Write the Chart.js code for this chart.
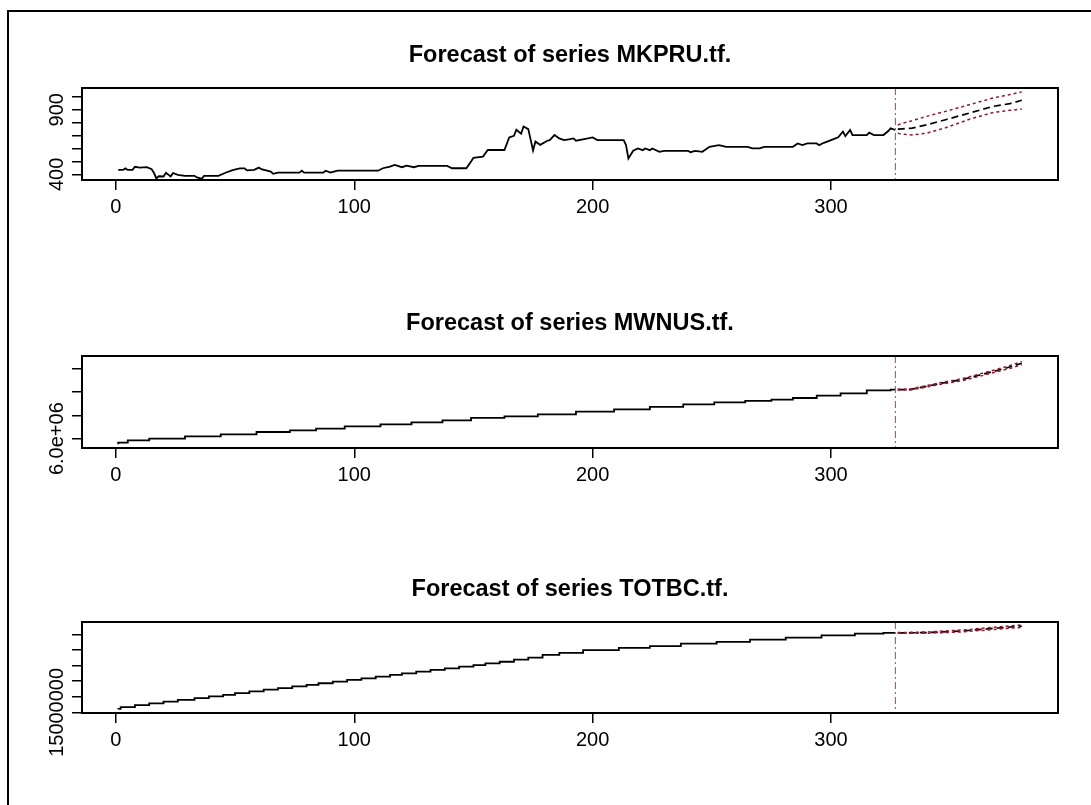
<!DOCTYPE html>
<html>
<head>
<meta charset="utf-8">
<script src="https://cdn.jsdelivr.net/npm/chart.js@4.4.1/dist/chart.umd.min.js"></script>
<style>
html,body{margin:0;padding:0;background:#fff;}
body{width:1091px;height:805px;position:relative;overflow:hidden;}
#frame{position:absolute;left:7px;top:10px;width:1200px;height:900px;border-left:2px solid #000;border-top:2px solid #000;}
canvas{position:absolute;left:0;}
</style>
</head>
<body>
<div id="frame"></div>
<canvas id="c1" width="1091" height="250" style="top:20px"></canvas>
<canvas id="c2" width="1091" height="250" style="top:290px"></canvas>
<canvas id="c3" width="1091" height="250" style="top:555px"></canvas>
<script>
// ---------- shared axis data ----------
const panelTitles = ["Forecast of series MKPRU.tf.", "Forecast of series MWNUS.tf.", "Forecast of series TOTBC.tf."];
const xTicks = [0, 100, 200, 300];
const xRange = [-14.2, 395.2];
const nObs = 327;

// ---------- MKPRU.tf ----------
const mkpruIdx = [1,3,4,5,7,8,10,13,15,16,17,18,20,21,23,24,26,29,33,34,36,37,43,46,49,52,54,55,58,60,61,65,66,68,77,78,79,87,88,90,93,110,112,115,117,120,122,125,127,139,141,147,149,150,154,156,163,165,167,168,170,171,173,175,176,178,181,182,184,186,188,190,192,193,197,200,202,213,214,215,217,219,221,222,224,225,228,230,240,241,243,246,249,253,256,265,267,270,272,284,286,288,290,294,295,297,300,303,305,306,308,309,315,316,318,322,324,325,327];
const mkpruVal = [434,434,446,434,434,458,452,455,440,410,368,385,383,412,384,410,396,388,388,376,366,388,388,412,433,446,446,430,434,452,440,421,404,413,413,428,413,413,428,413,428,428,447,460,472,455,467,455,465,465,447,447,499,528,537,588,588,686,698,745,714,770,750,585,654,628,660,665,704,678,665,670,678,660,675,686,665,665,626,522,582,600,587,600,587,600,574,582,582,571,582,574,613,626,613,613,600,600,613,613,639,626,639,639,626,644,665,686,730,696,743,704,704,722,704,704,735,756,743];
const mkpruFcIdx = [328,330,334,340,348,358,368,375,380];
const mkpruFcMean = [750,752,757,783,822,874,926,947,973];
const mkpruFcUpper = [782,796,815,848,887,939,991,1017,1038];
const mkpruFcLower = [718,710,705,718,760,826,879,895,905];
const mkpruYTicks = [400,500,600,700,800,900,1000];
const mkpruYLabels = [400, 900];
const mkpruYRange = [356, 1068];

// ---------- MWNUS.tf ----------
const mwnusIdx = [1,5,14,29,44,59,73,84,96,111,124,137,149,163,177,193,209,224,238,251,264,275,284,294,304,315,325,327];
const mwnusVal = [5879000,5914000,5964000,6000000,6050000,6093000,6143000,6179000,6214000,6264000,6307000,6350000,6393000,6443000,6479000,6521000,6579000,6629000,6679000,6736000,6779000,6807000,6836000,6871000,6921000,6971000,7036000,7050000];
const mwnusFcIdx = [328,333,340,347,355,362,370,376,380];
const mwnusFcMean = [7050000,7052000,7121000,7193000,7264000,7357000,7464000,7550000,7615000];
const mwnusFcUpper = [7058000,7064000,7135000,7210000,7285000,7380000,7490000,7580000,7650000];
const mwnusFcLower = [7042000,7040000,7105000,7175000,7240000,7330000,7440000,7520000,7585000];
const mwnusYTicks = [6000000,6500000,7000000,7500000];
const mwnusYLabels = [6000000];
const mwnusYRange = [5800000, 7770000];

// ---------- TOTBC.tf ----------
const totbcIdx = [1,2,8,14,20,26,33,39,45,50,56,62,68,74,80,85,91,97,103,109,115,120,126,132,138,144,150,155,161,167,173,179,186,196,211,224,237,252,266,281,296,310,322,327];
const totbcVal = [15042000,15045000,15068000,15093000,15115000,15138000,15160000,15182000,15205000,15225000,15247000,15268000,15290000,15310000,15332000,15352000,15373000,15394000,15416000,15436000,15458000,15479000,15500000,15521000,15543000,15564000,15585000,15606000,15627000,15648000,15675000,15700000,15735000,15762000,15797000,15826000,15847000,15881000,15902000,15932000,15958000,15987000,16008000,16017000];
const totbcFcIdx = [328,340,355,370,380];
const totbcFcMean = [16017000,16021000,16042000,16080000,16104000];
const totbcFcUpper = [16021000,16029000,16054000,16094000,16120000];
const totbcFcLower = [16013000,16013000,16030000,16066000,16088000];
const totbcYTicks = [15000000,15200000,15400000,15600000,15800000,16000000];
const totbcYLabels = [15000000];
const totbcYRange = [14992000, 16157000];

// ---------- helpers ----------
function pts(xs, ys){ return xs.map((x,i)=>({x:x, y:ys[i]})); }
function fmtY(v){
  if (v >= 1e6 && v < 1e7) return (v/1e6).toFixed(1) + "e+06";
  return String(v);
}
const FONT = '"Liberation Sans", Arial, Helvetica, sans-serif';
const CI_COLOR = '#8e1a30';

const panelDecor = {
  id: 'panelDecor',
  afterDatasetsDraw(chart, args, opts){
    const ctx = chart.ctx, a = chart.chartArea;
    const xs = chart.scales.x, ys = chart.scales.y;
    ctx.save();
    // forecast origin line
    const vx = xs.getPixelForValue(opts.nObs);
    ctx.strokeStyle = '#c8507a';
    ctx.lineWidth = 1.2;
    ctx.setLineDash([7,3,2,3]);
    ctx.beginPath(); ctx.moveTo(vx, a.top); ctx.lineTo(vx, a.bottom); ctx.stroke();
    ctx.setLineDash([]);
    // box
    ctx.strokeStyle = '#000';
    ctx.lineWidth = 2;
    ctx.strokeRect(a.left, a.top, a.right - a.left, a.bottom - a.top);
    // title
    ctx.fillStyle = '#000';
    ctx.font = 'bold 23.5px ' + FONT;
    ctx.textAlign = 'center';
    ctx.textBaseline = 'alphabetic';
    ctx.fillText(opts.title, (a.left + a.right)/2, a.top - 26);
    // rotated y labels
    ctx.font = '20px ' + FONT;
    ctx.textBaseline = 'middle';
    opts.yLabels.forEach(v => {
      const py = ys.getPixelForValue(v);
      ctx.save();
      ctx.translate(a.left - 25, py);
      ctx.rotate(-Math.PI/2);
      ctx.fillText(fmtY(v), 0, 0);
      ctx.restore();
    });
    ctx.restore();
  }
};

function makePanel(id, p){
  return new Chart(document.getElementById(id), {
    type: 'line',
    data: { datasets: [
      { data: pts(p.idx, p.val), borderColor:'#000', borderWidth:1.8, pointRadius:0, stepped: p.stepped ? 'after' : false, tension:0, fill:false },
      { data: pts(p.fcIdx, p.fcLower), borderColor:CI_COLOR, borderWidth:1.5, borderDash:[3,3], pointRadius:0, fill:false },
      { data: pts(p.fcIdx, p.fcUpper), borderColor:CI_COLOR, borderWidth:1.5, borderDash:[3,3], pointRadius:0, fill:false },
      { data: pts(p.fcIdx, p.fcMean), borderColor:'#000', borderWidth:1.7, borderDash:[7,4], pointRadius:0, fill:false }
    ]},
    options: {
      responsive:false, animation:false, events:[],
      layout:{ padding:{ top:p.padTop, bottom:p.padBottom, left:52, right:33 } },
      plugins:{
        legend:{display:false}, title:{display:false}, tooltip:{enabled:false},
        panelDecor:{ title:p.title, yLabels:p.yLabels, nObs:nObs }
      },
      scales:{
        x:{ type:'linear', position:'bottom', min:xRange[0], max:xRange[1],
            afterBuildTicks: s => { s.ticks = xTicks.map(v => ({value:v})); },
            afterFit: s => { s.height = 60; },
            grid:{ drawOnChartArea:false, drawTicks:true, tickLength:10, color:'#000', lineWidth:1.5 },
            border:{ display:false },
            ticks:{ color:'#000', font:{family:FONT, size:20}, padding:5, maxRotation:0, autoSkip:false,
                    callback: v => String(v) } },
        y:{ type:'linear', position:'left', min:p.yRange[0], max:p.yRange[1],
            afterBuildTicks: s => { s.ticks = p.yTicks.map(v => ({value:v})); },
            afterFit: s => { s.width = 30; },
            grid:{ drawOnChartArea:false, drawTicks:true, tickLength:10, color:'#000', lineWidth:1.5 },
            border:{ display:false },
            ticks:{ display:false } }
      }
    },
    plugins:[panelDecor]
  });
}

makePanel('c1', { title:panelTitles[0], idx:mkpruIdx, val:mkpruVal, fcIdx:mkpruFcIdx, fcMean:mkpruFcMean, fcUpper:mkpruFcUpper, fcLower:mkpruFcLower,
  yTicks:mkpruYTicks, yLabels:mkpruYLabels, yRange:mkpruYRange, stepped:false, padTop:68, padBottom:30 });
makePanel('c2', { title:panelTitles[1], idx:mwnusIdx, val:mwnusVal, fcIdx:mwnusFcIdx, fcMean:mwnusFcMean, fcUpper:mwnusFcUpper, fcLower:mwnusFcLower,
  yTicks:mwnusYTicks, yLabels:mwnusYLabels, yRange:mwnusYRange, stepped:true, padTop:66, padBottom:32 });
makePanel('c3', { title:panelTitles[2], idx:totbcIdx, val:totbcVal, fcIdx:totbcFcIdx, fcMean:totbcFcMean, fcUpper:totbcFcUpper, fcLower:totbcFcLower,
  yTicks:totbcYTicks, yLabels:totbcYLabels, yRange:totbcYRange, stepped:true, padTop:67, padBottom:32 });
</script>
</body>
</html>
